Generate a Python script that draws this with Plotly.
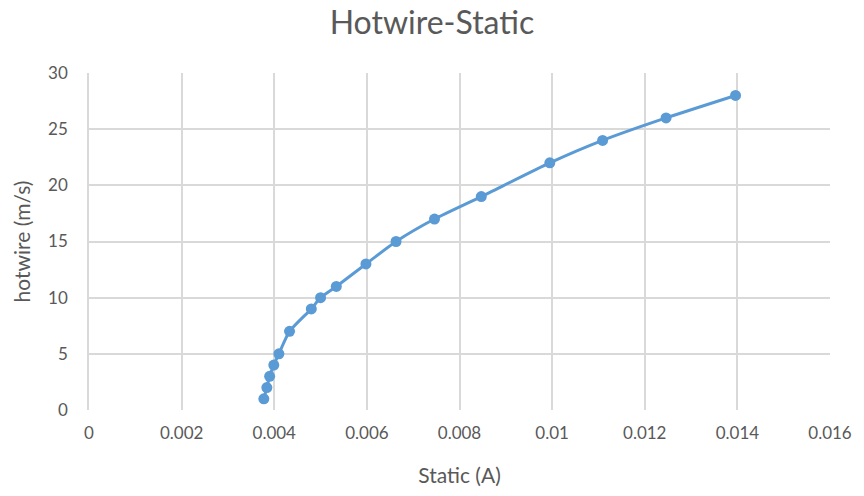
import plotly.graph_objects as go

static_a = [0.003775, 0.00384, 0.0039, 0.00399, 0.0041, 0.00433, 0.0048, 0.0050, 0.00534,
            0.00598, 0.00663, 0.00746, 0.00847, 0.00995, 0.01109, 0.01246, 0.01396]
hotwire = [1, 2, 3, 4, 5, 7, 9, 10, 11, 13, 15, 17, 19, 22, 24, 26, 28]

x_ticks = [0, 0.002, 0.004, 0.006, 0.008, 0.01, 0.012, 0.014, 0.016]
x_tick_labels = ["0", "0.002", "0.004", "0.006", "0.008", "0.01", "0.012", "0.014", "0.016"]
y_ticks = [0, 5, 10, 15, 20, 25, 30]

blue = "#5B9BD5"
grid = "#D9D9D9"
txt = "#595959"
font = "Lato, 'Liberation Sans', sans-serif"

fig = go.Figure(go.Scatter(
    x=static_a, y=hotwire, mode="lines+markers",
    line=dict(color=blue, width=3, shape="spline", smoothing=0.6),
    marker=dict(color=blue, size=11),
))

fig.update_layout(
    width=864, height=496,
    margin=dict(l=89, r=29, t=73, b=84),
    paper_bgcolor="white", plot_bgcolor="white",
    showlegend=False,
    font=dict(family=font, color=txt, size=17),
    title=dict(text="Hotwire-Static", x=0.5, xanchor="center", y=0.955, yanchor="middle",
               font=dict(size=32, color=txt, family=font)),
    xaxis=dict(range=[0, 0.016], tickvals=x_ticks, ticktext=x_tick_labels,
               showgrid=True, gridcolor=grid, gridwidth=1.5, zeroline=False,
               showline=False, ticks="", ticklen=0, ticklabelstandoff=11,
               tickfont=dict(size=17, color=txt),
               title=dict(text="Static (A)", font=dict(size=21, color=txt), standoff=26)),
    yaxis=dict(range=[0, 30], tickvals=y_ticks,
               showgrid=True, gridcolor=grid, gridwidth=1.5, zeroline=False,
               showline=True, linecolor=grid, linewidth=1.5, ticks="", ticklabelstandoff=16,
               tickfont=dict(size=17, color=txt),
               title=dict(text="hotwire (m/s)", font=dict(size=21, color=txt), standoff=12)),
)

fig.write_html("out.html")
